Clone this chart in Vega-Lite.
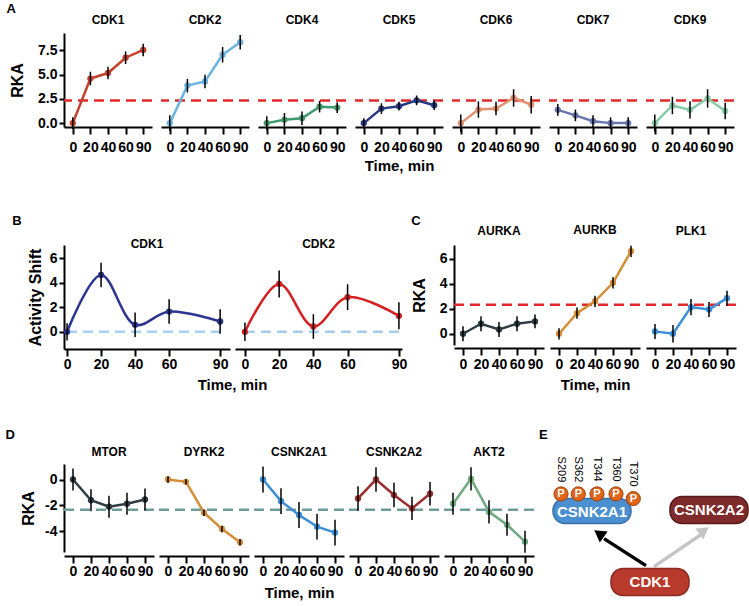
{
"$schema":"https://vega.github.io/schema/vega-lite/v6.json",
"padding":{"left":5,"top":2,"right":0,"bottom":0},
"background":"white",
"config":{"view":{"stroke":null},"font":"Liberation Sans",
"axis":{"grid":false,"domainColor":"black","domainWidth":2,"tickColor":"black","tickWidth":2,"labelColor":"black","labelFontWeight":"bold","titleColor":"black","titleFontWeight":"bold","labelFont":"Liberation Sans","titleFont":"Liberation Sans"},
"title":{"fontSize":12,"fontWeight":"bold","color":"black","font":"Liberation Sans","offset":6}},
"datasets":{
"thr":[{"g":"A","y":2.33},{"g":"C","y":2.33},{"g":"D","y":-2.33},{"g":"B","x0":0,"x1":90,"y":0}],
"rka":[
{"k":"CDK1","t":0,"v":0,"e":0.6},{"k":"CDK1","t":20,"v":4.6,"e":0.7},{"k":"CDK1","t":40,"v":5.17,"e":0.65},{"k":"CDK1","t":60,"v":6.75,"e":0.65},{"k":"CDK1","t":90,"v":7.55,"e":0.65},
{"k":"CDK2","t":0,"v":0,"e":0.8},{"k":"CDK2","t":20,"v":3.87,"e":0.7},{"k":"CDK2","t":40,"v":4.3,"e":0.7},{"k":"CDK2","t":60,"v":7.06,"e":0.8},{"k":"CDK2","t":90,"v":8.35,"e":0.75},
{"k":"CDK4","t":0,"v":0,"e":0.7},{"k":"CDK4","t":20,"v":0.34,"e":0.7},{"k":"CDK4","t":40,"v":0.51,"e":0.7},{"k":"CDK4","t":60,"v":1.7,"e":0.6},{"k":"CDK4","t":90,"v":1.6,"e":0.55},
{"k":"CDK5","t":0,"v":0,"e":0.5},{"k":"CDK5","t":20,"v":1.5,"e":0.55},{"k":"CDK5","t":40,"v":1.75,"e":0.45},{"k":"CDK5","t":60,"v":2.35,"e":0.5},{"k":"CDK5","t":90,"v":1.85,"e":0.5},
{"k":"CDK6","t":0,"v":0,"e":0.9},{"k":"CDK6","t":20,"v":1.4,"e":0.85},{"k":"CDK6","t":40,"v":1.5,"e":0.7},{"k":"CDK6","t":60,"v":2.6,"e":0.9},{"k":"CDK6","t":90,"v":1.9,"e":0.9},
{"k":"CDK7","t":0,"v":1.37,"e":0.6},{"k":"CDK7","t":20,"v":0.8,"e":0.6},{"k":"CDK7","t":40,"v":0.2,"e":0.6},{"k":"CDK7","t":60,"v":0.0,"e":0.6},{"k":"CDK7","t":90,"v":0.0,"e":0.6},
{"k":"CDK9","t":0,"v":0,"e":0.9},{"k":"CDK9","t":20,"v":1.82,"e":0.9},{"k":"CDK9","t":40,"v":1.37,"e":0.9},{"k":"CDK9","t":60,"v":2.55,"e":0.95},{"k":"CDK9","t":90,"v":1.25,"e":0.85},
{"k":"AURKA","t":0,"v":0,"e":0.6},{"k":"AURKA","t":20,"v":0.8,"e":0.6},{"k":"AURKA","t":40,"v":0.35,"e":0.6},{"k":"AURKA","t":60,"v":0.8,"e":0.6},{"k":"AURKA","t":90,"v":0.99,"e":0.55},
{"k":"AURKB","t":0,"v":0,"e":0.45},{"k":"AURKB","t":20,"v":1.65,"e":0.45},{"k":"AURKB","t":40,"v":2.6,"e":0.45},{"k":"AURKB","t":60,"v":4.08,"e":0.45},{"k":"AURKB","t":90,"v":6.6,"e":0.45},
{"k":"PLK1","t":0,"v":0.19,"e":0.6},{"k":"PLK1","t":20,"v":0,"e":0.7},{"k":"PLK1","t":40,"v":2.13,"e":0.65},{"k":"PLK1","t":60,"v":1.95,"e":0.6},{"k":"PLK1","t":90,"v":2.85,"e":0.6},
{"k":"MTOR","t":0,"v":0,"e":0.85},{"k":"MTOR","t":20,"v":-1.6,"e":0.85},{"k":"MTOR","t":40,"v":-2.1,"e":0.85},{"k":"MTOR","t":60,"v":-1.87,"e":0.85},{"k":"MTOR","t":90,"v":-1.54,"e":0.85},
{"k":"DYRK2","t":0,"v":0,"e":0.25},{"k":"DYRK2","t":20,"v":-0.18,"e":0.2},{"k":"DYRK2","t":40,"v":-2.56,"e":0.25},{"k":"DYRK2","t":60,"v":-3.82,"e":0.25},{"k":"DYRK2","t":90,"v":-4.85,"e":0.25},
{"k":"CSNK2A1","t":0,"v":0,"e":1.0},{"k":"CSNK2A1","t":20,"v":-1.67,"e":1.0},{"k":"CSNK2A1","t":40,"v":-2.74,"e":1.0},{"k":"CSNK2A1","t":60,"v":-3.64,"e":1.0},{"k":"CSNK2A1","t":90,"v":-4.1,"e":1.0},
{"k":"CSNK2A2","t":0,"v":-1.46,"e":0.95},{"k":"CSNK2A2","t":20,"v":0,"e":0.95},{"k":"CSNK2A2","t":40,"v":-1.2,"e":0.95},{"k":"CSNK2A2","t":60,"v":-2.23,"e":0.9},{"k":"CSNK2A2","t":90,"v":-1.1,"e":0.9},
{"k":"AKT2","t":0,"v":-1.87,"e":0.85},{"k":"AKT2","t":20,"v":0.05,"e":0.9},{"k":"AKT2","t":40,"v":-2.5,"e":0.9},{"k":"AKT2","t":60,"v":-3.5,"e":0.85},{"k":"AKT2","t":90,"v":-4.8,"e":0.85}
],
"shift":[
{"k":"CDK1","t":0,"v":0,"e":0.7},{"k":"CDK1","t":20,"v":4.63,"e":1.0},{"k":"CDK1","t":40,"v":0.57,"e":1.0},{"k":"CDK1","t":60,"v":1.65,"e":1.0},{"k":"CDK1","t":90,"v":0.84,"e":1.0},
{"k":"CDK2","t":0,"v":0,"e":0.75},{"k":"CDK2","t":20,"v":3.9,"e":1.1},{"k":"CDK2","t":40,"v":0.43,"e":1.0},{"k":"CDK2","t":60,"v":2.82,"e":1.05},{"k":"CDK2","t":90,"v":1.3,"e":1.1}
],
"pills":[{"n":"CSNK2A1","x0":12,"x1":90,"y0":34.6,"y1":59.6,"tx":51,"ty":47.6},{"n":"CSNK2A2","x0":129,"x1":207,"y0":32.6,"y1":59.6,"tx":168,"ty":46.2},{"n":"CDK1","x0":70,"x1":148,"y0":104.6,"y1":131.6,"tx":109,"ty":118.2}],
"sites":[{"s":"S209","x":20,"y":29.9,"ly":-7.4},{"s":"S362","x":37.3,"y":29.9,"ly":-7.4},{"s":"T344","x":56,"y":29.9,"ly":-7.4},{"s":"T360","x":75,"y":29.9,"ly":-7.4},{"s":"T370","x":92.3,"y":34.6,"ly":-2.4}],
"arrows":[{"a":"black","x":105,"y":101.6,"x2":63,"y2":74.6,"hx":58,"hy":69.6},{"a":"gray","x":113,"y":102.6,"x2":160,"y2":70.6,"hx":163,"hy":66.6}]
},
"spacing":41,
"resolve":{"scale":{"x":"independent","y":"independent"}},
"vconcat":[
{"title":{"text":"A","anchor":"start","fontSize":13,"offset":-1.5,"dx":-3},
"spacing":9,"bounds":"flush",
"resolve":{"scale":{"x":"independent","y":"independent"}},
"hconcat":[
{"width":88,"height":94,"title":"CDK1","layer":[
{"data":{"name":"thr"},"transform":[{"filter":{"field":"g","equal":"A"}}],"mark":{"type":"rule","color":"#e02a2a","strokeDash":[10,6],"strokeWidth":2.5},"encoding":{"y":{"field":"y","type":"quantitative","scale":{"domain":[-0.4,9.3],"nice":false,"zero":false},"axis":{"values":[0,2.5,5,7.5],"format":".1f","title":"RKA","titleFontSize":16,"labelFontSize":14,"tickSize":5,"labelPadding":2,"titlePadding":12}}}},
{"data":{"name":"rka"},"transform":[{"filter":{"field":"k","equal":"CDK1"}}],"encoding":{"x":{"field":"t","type":"ordinal","scale":{"type":"point","padding":0.5,"domain":[0,20,40,60,90]},"axis":{"labelAngle":0,"offset":0,"title":null,"labelFontSize":14,"labelOverlap":false,"labelPadding":6,"tickSize":7}},"y":{"field":"v","type":"quantitative","axis":{"values":[0,2.5,5,7.5],"format":".1f","title":"RKA","titleFontSize":16,"labelFontSize":14,"tickSize":5,"labelPadding":2,"titlePadding":12}}},"layer":[
{"mark":{"type":"line","color":"#c5402b","strokeWidth":2.5}},
{"mark":{"type":"point","filled":true,"opacity":1,"size":40,"color":"#c5402b"}},
{"mark":{"type":"errorbar","color":"black","thickness":1.5},"encoding":{"yError":{"field":"e"}}}]}]},
{"width":88,"height":94,"title":"CDK2","layer":[
{"data":{"name":"thr"},"transform":[{"filter":{"field":"g","equal":"A"}}],"mark":{"type":"rule","color":"#e02a2a","strokeDash":[10,6],"strokeWidth":2.5},"encoding":{"y":{"field":"y","type":"quantitative","scale":{"domain":[-0.4,9.3],"nice":false,"zero":false},"axis":null}}},
{"data":{"name":"rka"},"transform":[{"filter":{"field":"k","equal":"CDK2"}}],"encoding":{"x":{"field":"t","type":"ordinal","scale":{"type":"point","padding":0.5,"domain":[0,20,40,60,90]},"axis":{"labelAngle":0,"offset":0,"title":null,"labelFontSize":14,"labelOverlap":false,"labelPadding":6,"tickSize":7}},"y":{"field":"v","type":"quantitative","axis":null}},"layer":[
{"mark":{"type":"line","color":"#6ab4e0","strokeWidth":2.5}},
{"mark":{"type":"point","filled":true,"opacity":1,"size":40,"color":"#6ab4e0"}},
{"mark":{"type":"errorbar","color":"black","thickness":1.5},"encoding":{"yError":{"field":"e"}}}]}]},
{"width":88,"height":94,"title":"CDK4","layer":[
{"data":{"name":"thr"},"transform":[{"filter":{"field":"g","equal":"A"}}],"mark":{"type":"rule","color":"#e02a2a","strokeDash":[10,6],"strokeWidth":2.5},"encoding":{"y":{"field":"y","type":"quantitative","scale":{"domain":[-0.4,9.3],"nice":false,"zero":false},"axis":null}}},
{"data":{"name":"rka"},"transform":[{"filter":{"field":"k","equal":"CDK4"}}],"encoding":{"x":{"field":"t","type":"ordinal","scale":{"type":"point","padding":0.5,"domain":[0,20,40,60,90]},"axis":{"labelAngle":0,"offset":0,"title":null,"labelFontSize":14,"labelOverlap":false,"labelPadding":6,"tickSize":7}},"y":{"field":"v","type":"quantitative","axis":null}},"layer":[
{"mark":{"type":"line","color":"#3f9a6e","strokeWidth":2.5}},
{"mark":{"type":"point","filled":true,"opacity":1,"size":40,"color":"#3f9a6e"}},
{"mark":{"type":"errorbar","color":"black","thickness":1.5},"encoding":{"yError":{"field":"e"}}}]}]},
{"width":88,"height":94,"title":"CDK5","layer":[
{"data":{"name":"thr"},"transform":[{"filter":{"field":"g","equal":"A"}}],"mark":{"type":"rule","color":"#e02a2a","strokeDash":[10,6],"strokeWidth":2.5},"encoding":{"y":{"field":"y","type":"quantitative","scale":{"domain":[-0.4,9.3],"nice":false,"zero":false},"axis":null}}},
{"data":{"name":"rka"},"transform":[{"filter":{"field":"k","equal":"CDK5"}}],"encoding":{"x":{"field":"t","type":"ordinal","scale":{"type":"point","padding":0.5,"domain":[0,20,40,60,90]},"axis":{"labelAngle":0,"offset":0,"title":"Time, min","titleFontSize":15,"titlePadding":4,"labelFontSize":14,"labelOverlap":false,"labelPadding":6,"tickSize":7}},"y":{"field":"v","type":"quantitative","axis":null}},"layer":[
{"mark":{"type":"line","color":"#273a80","strokeWidth":2.5}},
{"mark":{"type":"point","filled":true,"opacity":1,"size":40,"color":"#273a80"}},
{"mark":{"type":"errorbar","color":"black","thickness":1.5},"encoding":{"yError":{"field":"e"}}}]}]},
{"width":88,"height":94,"title":"CDK6","layer":[
{"data":{"name":"thr"},"transform":[{"filter":{"field":"g","equal":"A"}}],"mark":{"type":"rule","color":"#e02a2a","strokeDash":[10,6],"strokeWidth":2.5},"encoding":{"y":{"field":"y","type":"quantitative","scale":{"domain":[-0.4,9.3],"nice":false,"zero":false},"axis":null}}},
{"data":{"name":"rka"},"transform":[{"filter":{"field":"k","equal":"CDK6"}}],"encoding":{"x":{"field":"t","type":"ordinal","scale":{"type":"point","padding":0.5,"domain":[0,20,40,60,90]},"axis":{"labelAngle":0,"offset":0,"title":null,"labelFontSize":14,"labelOverlap":false,"labelPadding":6,"tickSize":7}},"y":{"field":"v","type":"quantitative","axis":null}},"layer":[
{"mark":{"type":"line","color":"#e3916f","strokeWidth":2.5}},
{"mark":{"type":"point","filled":true,"opacity":1,"size":40,"color":"#e3916f"}},
{"mark":{"type":"errorbar","color":"black","thickness":1.5},"encoding":{"yError":{"field":"e"}}}]}]},
{"width":88,"height":94,"title":"CDK7","layer":[
{"data":{"name":"thr"},"transform":[{"filter":{"field":"g","equal":"A"}}],"mark":{"type":"rule","color":"#e02a2a","strokeDash":[10,6],"strokeWidth":2.5},"encoding":{"y":{"field":"y","type":"quantitative","scale":{"domain":[-0.4,9.3],"nice":false,"zero":false},"axis":null}}},
{"data":{"name":"rka"},"transform":[{"filter":{"field":"k","equal":"CDK7"}}],"encoding":{"x":{"field":"t","type":"ordinal","scale":{"type":"point","padding":0.5,"domain":[0,20,40,60,90]},"axis":{"labelAngle":0,"offset":0,"title":null,"labelFontSize":14,"labelOverlap":false,"labelPadding":6,"tickSize":7}},"y":{"field":"v","type":"quantitative","axis":null}},"layer":[
{"mark":{"type":"line","color":"#6876ad","strokeWidth":2.5}},
{"mark":{"type":"point","filled":true,"opacity":1,"size":40,"color":"#6876ad"}},
{"mark":{"type":"errorbar","color":"black","thickness":1.5},"encoding":{"yError":{"field":"e"}}}]}]},
{"width":88,"height":94,"title":"CDK9","layer":[
{"data":{"name":"thr"},"transform":[{"filter":{"field":"g","equal":"A"}}],"mark":{"type":"rule","color":"#e02a2a","strokeDash":[10,6],"strokeWidth":2.5},"encoding":{"y":{"field":"y","type":"quantitative","scale":{"domain":[-0.4,9.3],"nice":false,"zero":false},"axis":null}}},
{"data":{"name":"rka"},"transform":[{"filter":{"field":"k","equal":"CDK9"}}],"encoding":{"x":{"field":"t","type":"ordinal","scale":{"type":"point","padding":0.5,"domain":[0,20,40,60,90]},"axis":{"labelAngle":0,"offset":0,"title":null,"labelFontSize":14,"labelOverlap":false,"labelPadding":6,"tickSize":7}},"y":{"field":"v","type":"quantitative","axis":null}},"layer":[
{"mark":{"type":"line","color":"#86cba8","strokeWidth":2.5}},
{"mark":{"type":"point","filled":true,"opacity":1,"size":40,"color":"#86cba8"}},
{"mark":{"type":"errorbar","color":"black","thickness":1.5},"encoding":{"yError":{"field":"e"}}}]}]}
]},
{"spacing":36,
"resolve":{"scale":{"x":"independent","y":"independent"}},
"vconcat":[
{"spacing":4,
"resolve":{"scale":{"x":"independent","y":"independent"}},
"hconcat":[
{"title":{"text":"B","anchor":"start","fontSize":13,"offset":10.5,"dx":-15},
"spacing":5,"bounds":"flush",
"resolve":{"scale":{"x":"independent","y":"independent"}},
"hconcat":[
{"width":166,"height":104,"title":{"text":"CDK1","offset":-6},"layer":[
{"data":{"name":"thr"},"transform":[{"filter":{"field":"g","equal":"B"}}],"mark":{"type":"rule","color":"#a5cdee","strokeDash":[10,6],"strokeWidth":2.5},"encoding":{"x":{"field":"x0","type":"quantitative","scale":{"domain":[-1.8,95.8],"nice":false,"zero":false},"axis":{"values":[0,20,40,60,90],"title":"Time, min","titleFontSize":15,"titlePadding":6,"titleX":168,"labelFontSize":14,"tickSize":7,"labelPadding":1}},"x2":{"field":"x1"},"y":{"field":"y","type":"quantitative","scale":{"domain":[-1.4,7.07],"nice":false,"zero":false},"axis":{"values":[0,2,4,6],"title":"Activity Shift","titleFontSize":16,"labelFontSize":14,"tickSize":5,"labelPadding":2,"titlePadding":6}}}},
{"data":{"name":"shift"},"transform":[{"filter":{"field":"k","equal":"CDK1"}}],"encoding":{"x":{"field":"t","type":"quantitative","axis":{"values":[0,20,40,60,90],"title":"Time, min","titleFontSize":15,"titlePadding":6,"titleX":168,"labelFontSize":14,"tickSize":7,"labelPadding":1}},"y":{"field":"v","type":"quantitative","axis":{"values":[0,2,4,6],"title":"Activity Shift","titleFontSize":16,"labelFontSize":14,"tickSize":5,"labelPadding":2,"titlePadding":6}}},"layer":[
{"mark":{"type":"line","color":"#2b3590","strokeWidth":2.5,"interpolate":"catmull-rom"}},
{"mark":{"type":"point","filled":true,"opacity":1,"size":40,"color":"#2b3590"}},
{"mark":{"type":"errorbar","color":"black","thickness":1.5},"encoding":{"yError":{"field":"e"}}}]}]},
{"width":167,"height":104,"title":{"text":"CDK2","offset":-6},"layer":[
{"data":{"name":"thr"},"transform":[{"filter":{"field":"g","equal":"B"}}],"mark":{"type":"rule","color":"#a5cdee","strokeDash":[10,6],"strokeWidth":2.5},"encoding":{"x":{"field":"x0","type":"quantitative","scale":{"domain":[-5.8,91.8],"nice":false,"zero":false},"axis":{"values":[0,20,40,60,90],"title":null,"labelFontSize":14,"tickSize":7,"labelPadding":1}},"x2":{"field":"x1"},"y":{"field":"y","type":"quantitative","scale":{"domain":[-1.4,7.07],"nice":false,"zero":false},"axis":null}}},
{"data":{"name":"shift"},"transform":[{"filter":{"field":"k","equal":"CDK2"}}],"encoding":{"x":{"field":"t","type":"quantitative","axis":{"values":[0,20,40,60,90],"title":null,"labelFontSize":14,"tickSize":7,"labelPadding":1}},"y":{"field":"v","type":"quantitative","axis":null}},"layer":[
{"mark":{"type":"line","color":"#d42020","strokeWidth":2.5,"interpolate":"catmull-rom"}},
{"mark":{"type":"point","filled":true,"opacity":1,"size":40,"color":"#d42020"}},
{"mark":{"type":"errorbar","color":"black","thickness":1.5},"encoding":{"yError":{"field":"e"}}}]}]}
]},
{"title":{"text":"C","anchor":"start","fontSize":13,"offset":-3.5},
"spacing":6,"bounds":"flush",
"resolve":{"scale":{"x":"independent","y":"independent"}},
"hconcat":[
{"width":90,"height":100,"title":{"text":"AURKA","offset":7.5},"layer":[
{"data":{"name":"thr"},"transform":[{"filter":{"field":"g","equal":"C"}}],"mark":{"type":"rule","color":"#e02a2a","strokeDash":[10,6],"strokeWidth":2.5},"encoding":{"y":{"field":"y","type":"quantitative","scale":{"domain":[-0.9,7.1],"nice":false,"zero":false},"axis":{"values":[0,2,4,6],"title":"RKA","titleFontSize":16,"labelFontSize":14,"tickSize":5,"labelPadding":2,"titlePadding":12}}}},
{"data":{"name":"rka"},"transform":[{"filter":{"field":"k","equal":"AURKA"}}],"encoding":{"x":{"field":"t","type":"ordinal","scale":{"type":"point","padding":0.5,"domain":[0,20,40,60,90]},"axis":{"labelAngle":0,"offset":3,"title":null,"labelFontSize":14,"labelOverlap":false,"labelPadding":2,"tickSize":7}},"y":{"field":"v","type":"quantitative","axis":{"values":[0,2,4,6],"title":"RKA","titleFontSize":16,"labelFontSize":14,"tickSize":5,"labelPadding":2,"titlePadding":12}}},"layer":[
{"mark":{"type":"line","color":"#2e3c44","strokeWidth":2.5}},
{"mark":{"type":"point","filled":true,"opacity":1,"size":40,"color":"#2e3c44"}},
{"mark":{"type":"errorbar","color":"black","thickness":1.5},"encoding":{"yError":{"field":"e"}}}]}]},
{"width":90,"height":100,"title":{"text":"AURKB","offset":7.5},"layer":[
{"data":{"name":"thr"},"transform":[{"filter":{"field":"g","equal":"C"}}],"mark":{"type":"rule","color":"#e02a2a","strokeDash":[10,6],"strokeWidth":2.5},"encoding":{"y":{"field":"y","type":"quantitative","scale":{"domain":[-0.9,7.1],"nice":false,"zero":false},"axis":null}}},
{"data":{"name":"rka"},"transform":[{"filter":{"field":"k","equal":"AURKB"}}],"encoding":{"x":{"field":"t","type":"ordinal","scale":{"type":"point","padding":0.5,"domain":[0,20,40,60,90]},"axis":{"labelAngle":0,"offset":3,"title":"Time, min","titleFontSize":15,"titlePadding":6,"labelFontSize":14,"labelOverlap":false,"labelPadding":2,"tickSize":7}},"y":{"field":"v","type":"quantitative","axis":null}},"layer":[
{"mark":{"type":"line","color":"#d48c35","strokeWidth":2.5}},
{"mark":{"type":"point","filled":true,"opacity":1,"size":40,"color":"#d48c35"}},
{"mark":{"type":"errorbar","color":"black","thickness":1.5},"encoding":{"yError":{"field":"e"}}}]}]},
{"width":90,"height":100,"title":{"text":"PLK1","offset":7.5},"layer":[
{"data":{"name":"thr"},"transform":[{"filter":{"field":"g","equal":"C"}}],"mark":{"type":"rule","color":"#e02a2a","strokeDash":[10,6],"strokeWidth":2.5},"encoding":{"y":{"field":"y","type":"quantitative","scale":{"domain":[-0.9,7.1],"nice":false,"zero":false},"axis":null}}},
{"data":{"name":"rka"},"transform":[{"filter":{"field":"k","equal":"PLK1"}}],"encoding":{"x":{"field":"t","type":"ordinal","scale":{"type":"point","padding":0.5,"domain":[0,20,40,60,90]},"axis":{"labelAngle":0,"offset":3,"title":null,"labelFontSize":14,"labelOverlap":false,"labelPadding":2,"tickSize":7}},"y":{"field":"v","type":"quantitative","axis":null}},"layer":[
{"mark":{"type":"line","color":"#3d8ed8","strokeWidth":2.5}},
{"mark":{"type":"point","filled":true,"opacity":1,"size":40,"color":"#3d8ed8"}},
{"mark":{"type":"errorbar","color":"black","thickness":1.5},"encoding":{"yError":{"field":"e"}}}]}]}
]}
]},
{"spacing":3,
"resolve":{"scale":{"x":"independent","y":"independent"}},
"hconcat":[
{"title":{"text":"D","anchor":"start","fontSize":13,"offset":4.5,"dx":-15},
"spacing":5,"bounds":"flush",
"resolve":{"scale":{"x":"independent","y":"independent"}},
"hconcat":[
{"width":90,"height":88,"title":{"text":"MTOR","offset":5},"layer":[
{"data":{"name":"thr"},"transform":[{"filter":{"field":"g","equal":"D"}}],"mark":{"type":"rule","color":"#6d9c9a","strokeDash":[10,6],"strokeWidth":2.5},"encoding":{"y":{"field":"y","type":"quantitative","scale":{"domain":[-5.6,1.2],"nice":false,"zero":false},"axis":{"values":[0,-2,-4],"labelExpr":"'' + datum.value","title":"RKA","titleFontSize":16,"labelFontSize":14,"tickSize":5,"labelPadding":2,"titlePadding":8}}}},
{"data":{"name":"rka"},"transform":[{"filter":{"field":"k","equal":"MTOR"}}],"encoding":{"x":{"field":"t","type":"ordinal","scale":{"type":"point","padding":0.5,"domain":[0,20,40,60,90]},"axis":{"labelAngle":0,"offset":4,"title":null,"labelFontSize":14,"labelOverlap":false,"labelPadding":1,"tickSize":7}},"y":{"field":"v","type":"quantitative","axis":{"values":[0,-2,-4],"labelExpr":"'' + datum.value","title":"RKA","titleFontSize":16,"labelFontSize":14,"tickSize":5,"labelPadding":2,"titlePadding":8}}},"layer":[
{"mark":{"type":"line","color":"#2e3c44","strokeWidth":2.5}},
{"mark":{"type":"point","filled":true,"opacity":1,"size":40,"color":"#2e3c44"}},
{"mark":{"type":"errorbar","color":"black","thickness":1.5},"encoding":{"yError":{"field":"e"}}}]}]},
{"width":90,"height":88,"title":{"text":"DYRK2","offset":5},"layer":[
{"data":{"name":"thr"},"transform":[{"filter":{"field":"g","equal":"D"}}],"mark":{"type":"rule","color":"#6d9c9a","strokeDash":[10,6],"strokeWidth":2.5},"encoding":{"y":{"field":"y","type":"quantitative","scale":{"domain":[-5.6,1.2],"nice":false,"zero":false},"axis":null}}},
{"data":{"name":"rka"},"transform":[{"filter":{"field":"k","equal":"DYRK2"}}],"encoding":{"x":{"field":"t","type":"ordinal","scale":{"type":"point","padding":0.5,"domain":[0,20,40,60,90]},"axis":{"labelAngle":0,"offset":4,"title":null,"labelFontSize":14,"labelOverlap":false,"labelPadding":1,"tickSize":7}},"y":{"field":"v","type":"quantitative","axis":null}},"layer":[
{"mark":{"type":"line","color":"#d48c35","strokeWidth":2.5}},
{"mark":{"type":"point","filled":true,"opacity":1,"size":40,"color":"#d48c35"}},
{"mark":{"type":"errorbar","color":"black","thickness":1.5},"encoding":{"yError":{"field":"e"}}}]}]},
{"width":90,"height":88,"title":{"text":"CSNK2A1","offset":5},"layer":[
{"data":{"name":"thr"},"transform":[{"filter":{"field":"g","equal":"D"}}],"mark":{"type":"rule","color":"#6d9c9a","strokeDash":[10,6],"strokeWidth":2.5},"encoding":{"y":{"field":"y","type":"quantitative","scale":{"domain":[-5.6,1.2],"nice":false,"zero":false},"axis":null}}},
{"data":{"name":"rka"},"transform":[{"filter":{"field":"k","equal":"CSNK2A1"}}],"encoding":{"x":{"field":"t","type":"ordinal","scale":{"type":"point","padding":0.5,"domain":[0,20,40,60,90]},"axis":{"labelAngle":0,"offset":4,"title":"Time, min","titleFontSize":15,"titlePadding":7,"labelFontSize":14,"labelOverlap":false,"labelPadding":1,"tickSize":7}},"y":{"field":"v","type":"quantitative","axis":null}},"layer":[
{"mark":{"type":"line","color":"#3d8ed8","strokeWidth":2.5}},
{"mark":{"type":"point","filled":true,"opacity":1,"size":40,"color":"#3d8ed8"}},
{"mark":{"type":"errorbar","color":"black","thickness":1.5},"encoding":{"yError":{"field":"e"}}}]}]},
{"width":90,"height":88,"title":{"text":"CSNK2A2","offset":5},"layer":[
{"data":{"name":"thr"},"transform":[{"filter":{"field":"g","equal":"D"}}],"mark":{"type":"rule","color":"#6d9c9a","strokeDash":[10,6],"strokeWidth":2.5},"encoding":{"y":{"field":"y","type":"quantitative","scale":{"domain":[-5.6,1.2],"nice":false,"zero":false},"axis":null}}},
{"data":{"name":"rka"},"transform":[{"filter":{"field":"k","equal":"CSNK2A2"}}],"encoding":{"x":{"field":"t","type":"ordinal","scale":{"type":"point","padding":0.5,"domain":[0,20,40,60,90]},"axis":{"labelAngle":0,"offset":4,"title":null,"labelFontSize":14,"labelOverlap":false,"labelPadding":1,"tickSize":7}},"y":{"field":"v","type":"quantitative","axis":null}},"layer":[
{"mark":{"type":"line","color":"#9a2e2e","strokeWidth":2.5}},
{"mark":{"type":"point","filled":true,"opacity":1,"size":40,"color":"#9a2e2e"}},
{"mark":{"type":"errorbar","color":"black","thickness":1.5},"encoding":{"yError":{"field":"e"}}}]}]},
{"width":90,"height":88,"title":{"text":"AKT2","offset":5},"layer":[
{"data":{"name":"thr"},"transform":[{"filter":{"field":"g","equal":"D"}}],"mark":{"type":"rule","color":"#6d9c9a","strokeDash":[10,6],"strokeWidth":2.5},"encoding":{"y":{"field":"y","type":"quantitative","scale":{"domain":[-5.6,1.2],"nice":false,"zero":false},"axis":null}}},
{"data":{"name":"rka"},"transform":[{"filter":{"field":"k","equal":"AKT2"}}],"encoding":{"x":{"field":"t","type":"ordinal","scale":{"type":"point","padding":0.5,"domain":[0,20,40,60,90]},"axis":{"labelAngle":0,"offset":4,"title":null,"labelFontSize":14,"labelOverlap":false,"labelPadding":1,"tickSize":7}},"y":{"field":"v","type":"quantitative","axis":null}},"layer":[
{"mark":{"type":"line","color":"#6fa97f","strokeWidth":2.5}},
{"mark":{"type":"point","filled":true,"opacity":1,"size":40,"color":"#6fa97f"}},
{"mark":{"type":"errorbar","color":"black","thickness":1.5},"encoding":{"yError":{"field":"e"}}}]}]}
]},
{"width":208,"height":138,"title":{"text":"E","anchor":"start","fontSize":13,"offset":15,"dx":-2},
"layer":[
{"data":{"name":"arrows"},"transform":[{"filter":{"field":"a","equal":"gray"}}],"mark":{"type":"rule","color":"#c4c4c4","strokeWidth":3.5},"encoding":{"x":{"field":"x","type":"quantitative","scale":{"domain":[0,208],"nice":false,"zero":false},"axis":null},"y":{"field":"y","type":"quantitative","scale":{"domain":[0,138],"nice":false,"zero":false,"reverse":true},"axis":null},"x2":{"field":"x2"},"y2":{"field":"y2"}}},
{"data":{"name":"arrows"},"transform":[{"filter":{"field":"a","equal":"gray"}}],"mark":{"type":"point","shape":"triangle-up","filled":true,"opacity":1,"color":"#c4c4c4","size":180,"angle":54},"encoding":{"x":{"field":"hx","type":"quantitative"},"y":{"field":"hy","type":"quantitative"}}},
{"data":{"name":"arrows"},"transform":[{"filter":{"field":"a","equal":"black"}}],"mark":{"type":"rule","color":"black","strokeWidth":3.5},"encoding":{"x":{"field":"x","type":"quantitative"},"y":{"field":"y","type":"quantitative"},"x2":{"field":"x2"},"y2":{"field":"y2"}}},
{"data":{"name":"arrows"},"transform":[{"filter":{"field":"a","equal":"black"}}],"mark":{"type":"point","shape":"triangle-up","filled":true,"opacity":1,"color":"black","size":180,"angle":306},"encoding":{"x":{"field":"hx","type":"quantitative"},"y":{"field":"hy","type":"quantitative"}}},
{"data":{"name":"pills"},"mark":{"type":"rect","cornerRadius":12,"strokeWidth":1.5},"encoding":{"x":{"field":"x0","type":"quantitative"},"x2":{"field":"x1"},"y":{"field":"y0","type":"quantitative"},"y2":{"field":"y1"},"fill":{"field":"n","type":"nominal","scale":{"domain":["CSNK2A1","CSNK2A2","CDK1"],"range":["#4a8fd0","#7f2b2b","#b83a2c"]},"legend":null},"stroke":{"field":"n","type":"nominal","scale":{"domain":["CSNK2A1","CSNK2A2","CDK1"],"range":["#3a6fa8","#5a1a1a","#8a2a20"]},"legend":null}}},
{"data":{"name":"pills"},"mark":{"type":"text","color":"white","fontWeight":"bold","fontSize":15,"font":"Liberation Sans","align":"center","baseline":"middle"},"encoding":{"x":{"field":"tx","type":"quantitative"},"y":{"field":"ty","type":"quantitative"},"text":{"field":"n"}}},
{"data":{"name":"sites"},"mark":{"type":"point","shape":"circle","filled":true,"opacity":1,"color":"#e0641a","size":200,"stroke":"#a0420a","strokeWidth":1},"encoding":{"x":{"field":"x","type":"quantitative"},"y":{"field":"y","type":"quantitative"}}},
{"data":{"name":"sites"},"mark":{"type":"text","text":"P","color":"white","fontWeight":"bold","fontSize":11,"font":"Liberation Sans","align":"center","baseline":"middle"},"encoding":{"x":{"field":"x","type":"quantitative"},"y":{"field":"y","type":"quantitative"}}},
{"data":{"name":"sites"},"mark":{"type":"text","color":"black","fontSize":11,"font":"Liberation Sans","align":"left","baseline":"middle","angle":90},"encoding":{"x":{"field":"x","type":"quantitative"},"y":{"field":"ly","type":"quantitative"},"text":{"field":"s"}}}
]}
]}
]}
]
}
